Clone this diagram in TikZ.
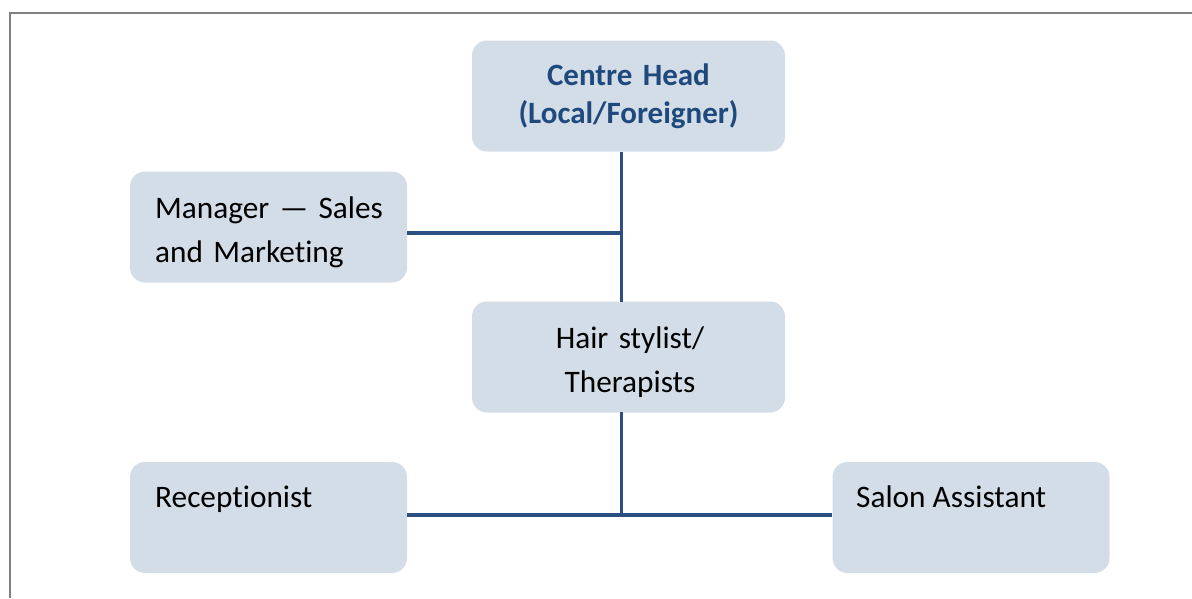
\documentclass[tikz,border=0pt]{standalone}
\usepackage{fontspec}
\setmainfont{Carlito}[Ligatures={NoCommon}]
\definecolor{boxfill}{HTML}{D3DDE8}
\definecolor{headblue}{HTML}{1F497D}
\definecolor{lineblue}{HTML}{2A4F80}
\definecolor{framegray}{HTML}{7F7F7F}
\begin{document}
\begin{tikzpicture}[x=1pt,y=-1pt,
  boxshape/.style={fill=boxfill, draw=none, rounded corners=15pt, inner sep=0pt,
    minimum width=#1, minimum height=111pt},
  boxshape/.default=277pt,
  regtext/.style={inner sep=0pt, font=\fontsize{31.3}{44}\selectfont, text=black},
  headtext/.style={inner sep=0pt, font=\fontsize{31}{38}\selectfont\bfseries, text=headblue},
  conn/.style={draw=lineblue, line width=3.3pt},
  frameline/.style={draw=framegray, line width=2pt}
]
\useasboundingbox (0,0) rectangle (1192,598);
\coordinate (ftr) at (1192,13);
\coordinate (ftl) at (10,13);
\coordinate (fbl) at (10,598);
\draw[frameline] (ftr) -- (ftl) -- (fbl);

% boxes
\node[boxshape=313pt] (head) at (628.5,96) {};
\node[boxshape] (mgr) at (268.5,227) {};
\node[boxshape=313pt] (hair) at (628.5,357) {};
\node[boxshape] (rec) at (268.5,517.5) {};
\node[boxshape] (salon) at (971,517.5) {};

% texts
\node[headtext, text width=313pt, align=center, anchor=base] (headt) at (628.5,85)
  {Centre Head\\(Local/Foreigner)};
\node[regtext, text width=250pt, align=left, anchor=base west] (mgrt) at (155,218)
  {Manager — Sales\\and Marketing};
\node[regtext, text width=313pt, align=center, anchor=base] (hairt) at (630,348)
  {Hair stylist/\\Therapists};
\node[regtext, anchor=base west] (rect) at (155,507) {Receptionist};
\node[regtext, anchor=base west] (salont) at (856,507) {Salon Assistant};

% connectors
\coordinate (j1) at (621.5,233);
\coordinate (j2) at (621.5,515);
\draw[conn] (621.5,152) -- (621.5,302);
\draw[conn] (mgr.east |- j1) -- (j1);
\draw[conn] (621.5,412) -- (j2);
\draw[conn] (rec.east |- j2) -- (salon.west |- j2);
\end{tikzpicture}
\end{document}
